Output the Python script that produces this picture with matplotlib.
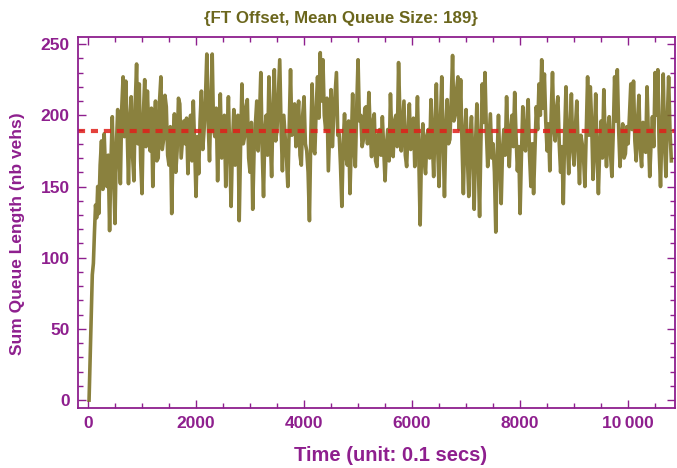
import numpy as np
import matplotlib
matplotlib.use("Agg")
import matplotlib.pyplot as plt
from matplotlib.ticker import MultipleLocator, FuncFormatter

plt.rcParams['font.family'] = ['Liberation Sans', 'DejaVu Sans']

# Start-up ramp (fine time steps)
ramp_time = [20, 40, 60, 80, 100, 120, 140, 160, 180]
ramp_queue = [0, 30, 62, 88, 96, 118, 137, 128, 150]

# Queue length sampled every 25 time units from t = 200
step = 25
queue = [
    # t = 200 .. 1775
    131, 165, 182, 148, 187, 160, 150, 172, 119, 168, 199, 158, 124, 178, 204, 170,
    152, 205, 227, 185, 224, 190, 152, 196, 213, 172, 154, 208, 236, 180, 222, 168,
    145, 200, 225, 178, 217, 190, 175, 205, 150, 188, 210, 168, 170, 210, 227, 176,
    183, 214, 206, 172, 165, 192, 131, 180, 201, 160, 175, 212, 208, 170, 183, 196,
    # t = 1800 .. 3625
    180, 198, 159, 190, 200, 168, 210, 178, 143, 185, 159, 196, 217, 176, 190, 212,
    243, 195, 168, 210, 243, 190, 185, 205, 154, 192, 215, 170, 180, 200, 150, 185,
    213, 172, 136, 180, 204, 165, 170, 200, 126, 178, 222, 180, 185, 206, 211, 170,
    160, 195, 134, 175, 194, 210, 175, 198, 230, 176, 143, 190, 200, 172, 227, 185,
    157, 205, 232, 182, 190, 214, 239, 192, 161, 200,
    # t = 3650 .. 5475
    185, 170, 150, 190, 232, 186, 190, 208, 178, 196, 210, 172, 165, 200, 213, 180,
    175, 160, 126, 185, 222, 176, 173, 205, 227, 198, 244, 210, 239, 200, 190, 212,
    161, 190, 218, 178, 200, 215, 230, 186, 187, 165, 136, 180, 201, 172, 165, 196,
    145, 180, 215, 176, 164, 205, 239, 196, 200, 178, 183, 205, 206, 180, 216, 190,
    171, 195, 201, 168, 164, 186, 190, 172, 199, 176,
    # t = 5500 .. 7325
    154, 178, 190, 168, 215, 185, 171, 196, 200, 178, 237, 200, 175, 192, 210, 172,
    164, 190, 208, 176, 185, 198, 164, 185, 213, 170, 123, 176, 194, 168, 159, 186,
    190, 170, 211, 182, 157, 194, 222, 176, 150, 196, 227, 182, 143, 190, 211, 180,
    183, 210, 242, 196, 200, 218, 227, 190, 225, 180, 145, 186, 204, 170, 143, 185,
    199, 168, 134, 180, 208, 170, 129, 182, 222, 195,
    # t = 7350 .. 9075
    230, 190, 164, 182, 201, 170, 180, 160, 118, 170, 200, 165, 138, 176, 190, 172,
    213, 184, 164, 190, 200, 178, 216, 186, 161, 178, 131, 172, 206, 180, 175, 196,
    211, 172, 150, 180, 145, 176, 206, 190, 222, 200, 239, 205, 229, 196, 175, 194,
    161, 200, 230, 190, 182, 205, 213, 180, 160, 178, 138, 186, 220, 182, 159, 190,
    215, 176, 165, 192, 210, 176,
    # t = 9100 .. 10800
    152, 186, 180, 170, 150, 190, 227, 186, 220, 195, 155, 180, 215, 172, 145, 178,
    196, 170, 218, 184, 164, 190, 199, 172, 157, 188, 227, 196, 232, 190, 164, 184,
    194, 170, 173, 192, 180, 200, 222, 190, 224, 182, 168, 196, 214, 176, 164, 195,
    190, 174, 220, 186, 157, 180, 199, 178, 230, 200, 232, 176, 150, 188, 229, 180,
    157, 196, 227, 190, 168,
]
main_time = 200 + step * np.arange(len(queue))

time = np.concatenate([ramp_time, main_time])
values = np.concatenate([ramp_queue, queue])

mean_queue = 189

purple = '#8e1f8e'
olive = '#766b1c'
title_col = '#6b661c'

fig = plt.figure(figsize=(6.77, 4.68), dpi=100)
ax = fig.add_axes([0.1152, 0.128, 0.882, 0.793])

ax.plot(time, values, color=olive, lw=2.6, alpha=0.85, solid_joinstyle='round')
ax.axhline(mean_queue, color='#e0201a', lw=3.0, dashes=(1.7, 1.4), alpha=0.85)

ax.set_xlim(-185, 10870)
ax.set_ylim(-5.6, 255)

ax.xaxis.set_major_locator(MultipleLocator(2000))
ax.xaxis.set_minor_locator(MultipleLocator(500))
ax.yaxis.set_major_locator(MultipleLocator(50))
ax.yaxis.set_minor_locator(MultipleLocator(10))


def fmt_x(v, pos):
    v = int(round(v))
    if v >= 10000:
        return f"{v // 1000}\u2009{v % 1000:03d}"
    return str(v)


ax.xaxis.set_major_formatter(FuncFormatter(fmt_x))

ax.tick_params(which='both', direction='in', top=True, right=True, colors=purple,
               labelcolor=purple, width=1.0)
ax.tick_params(which='major', length=6, labelsize=12.5, pad=6)
ax.tick_params(which='minor', length=3.5)
for lab in ax.get_xticklabels() + ax.get_yticklabels():
    lab.set_fontweight('bold')

for sp in ax.spines.values():
    sp.set_color(purple)
    sp.set_linewidth(1.3)

ax.set_xlabel('Time (unit: 0.1 secs)', color=purple, fontsize=14.5, fontweight='bold')
ax.xaxis.set_label_coords(0.523, -0.103)
ax.set_ylabel('Sum Queue Length (nb vehs)', color=purple, fontsize=12.5, fontweight='bold')
ax.yaxis.set_label_coords(-0.089, 0.47)
fig.text(0.504, 0.96, '{FT Offset, Mean Queue Size: 189}', color=title_col, fontsize=12.2,
         fontweight='bold', ha='center', va='center')

fig.savefig('out.png', dpi=100)
